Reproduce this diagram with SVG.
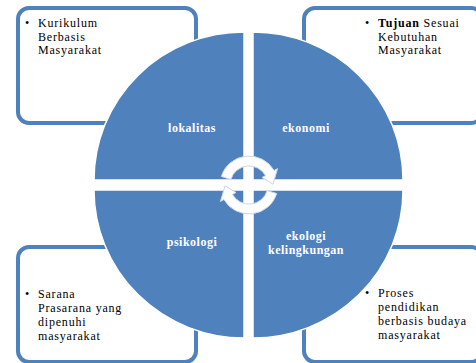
<svg xmlns="http://www.w3.org/2000/svg" width="476" height="363" viewBox="0 0 476 363">
<style>
.box{fill:#ffffff;stroke:#4f81bd;stroke-width:4}
.sec{fill:#4f81bd;stroke:#ffffff;stroke-width:1.5}
.bt{font-family:"Liberation Serif","DejaVu Serif",serif;font-size:12px;fill:#000000;letter-spacing:0.8px}
.lb{font-family:"Liberation Serif","DejaVu Serif",serif;font-size:12px;font-weight:bold;fill:#ffffff;letter-spacing:0.5px;text-anchor:middle}
.arr{fill:#ffffff;stroke:#c9d6e8;stroke-width:1}
</style>
<rect width="476" height="363" fill="#ffffff"/>
<g id="box-tl">
<rect class="box" x="18" y="8" width="178" height="115" rx="11"/>
<text class="bt" x="25" y="27">•</text>
<text class="bt" x="38" y="27">Kurikulum</text>
<text class="bt" x="38" y="40.5">Berbasis</text>
<text class="bt" x="38" y="54">Masyarakat</text>
</g>
<g id="box-tr">
<rect class="box" x="304" y="8" width="178" height="115" rx="11"/>
<text class="bt" x="365" y="27">•</text>
<text class="bt" x="378" y="27"><tspan font-weight="bold">Tujuan</tspan> Sesuai</text>
<text class="bt" x="378" y="40.5">Kebutuhan</text>
<text class="bt" x="378" y="54">Masyarakat</text>
</g>
<g id="box-bl">
<rect class="box" x="18" y="247" width="178" height="115" rx="11"/>
<text class="bt" x="25" y="298">•</text>
<text class="bt" x="38" y="298">Sarana</text>
<text class="bt" x="38" y="312">Prasarana yang</text>
<text class="bt" x="38" y="326">dipenuhi</text>
<text class="bt" x="38" y="340">masyarakat</text>
</g>
<g id="box-br">
<rect class="box" x="304" y="247" width="178" height="115" rx="11"/>
<text class="bt" x="365" y="297">•</text>
<text class="bt" x="378" y="297">Proses</text>
<text class="bt" x="378" y="311">pendidikan</text>
<text class="bt" x="378" y="325">berbasis budaya</text>
<text class="bt" x="378" y="339">masyarakat</text>
</g>
<g id="sector-lokalitas">
<path class="sec" d="M244 180 L94 180 A150 148 0 0 1 244 32 Z"/>
<text class="lb" x="192" y="132">lokalitas</text>
</g>
<g id="sector-ekonomi">
<path class="sec" d="M253 180 L253 32 A150 148 0 0 1 403 180 Z"/>
<text class="lb" x="306" y="132">ekonomi</text>
</g>
<g id="sector-psikologi">
<path class="sec" d="M244 190 L244 338 A150 148 0 0 1 94 190 Z"/>
<text class="lb" x="192" y="246">psikologi</text>
</g>
<g id="sector-ekologi">
<path class="sec" d="M253 190 L403 190 A150 148 0 0 1 253 338 Z"/>
<text class="lb" x="306" y="240">ekologi</text>
<text class="lb" x="306" y="254">kelingkungan</text>
</g>
<g id="connectors">
<path class="arr" d="M221.3 176.5 A29 29 0 0 1 274.1 170.5 L277.6 168.5 L273.0 184.2 L262.0 177.5 L265.5 175.5 A19 19 0 0 0 230.8 179.4 Z"/>
<path class="arr" transform="rotate(180 249 185)" d="M221.3 176.5 A29 29 0 0 1 274.1 170.5 L277.6 168.5 L273.0 184.2 L262.0 177.5 L265.5 175.5 A19 19 0 0 0 230.8 179.4 Z"/>
</g>
</svg>
